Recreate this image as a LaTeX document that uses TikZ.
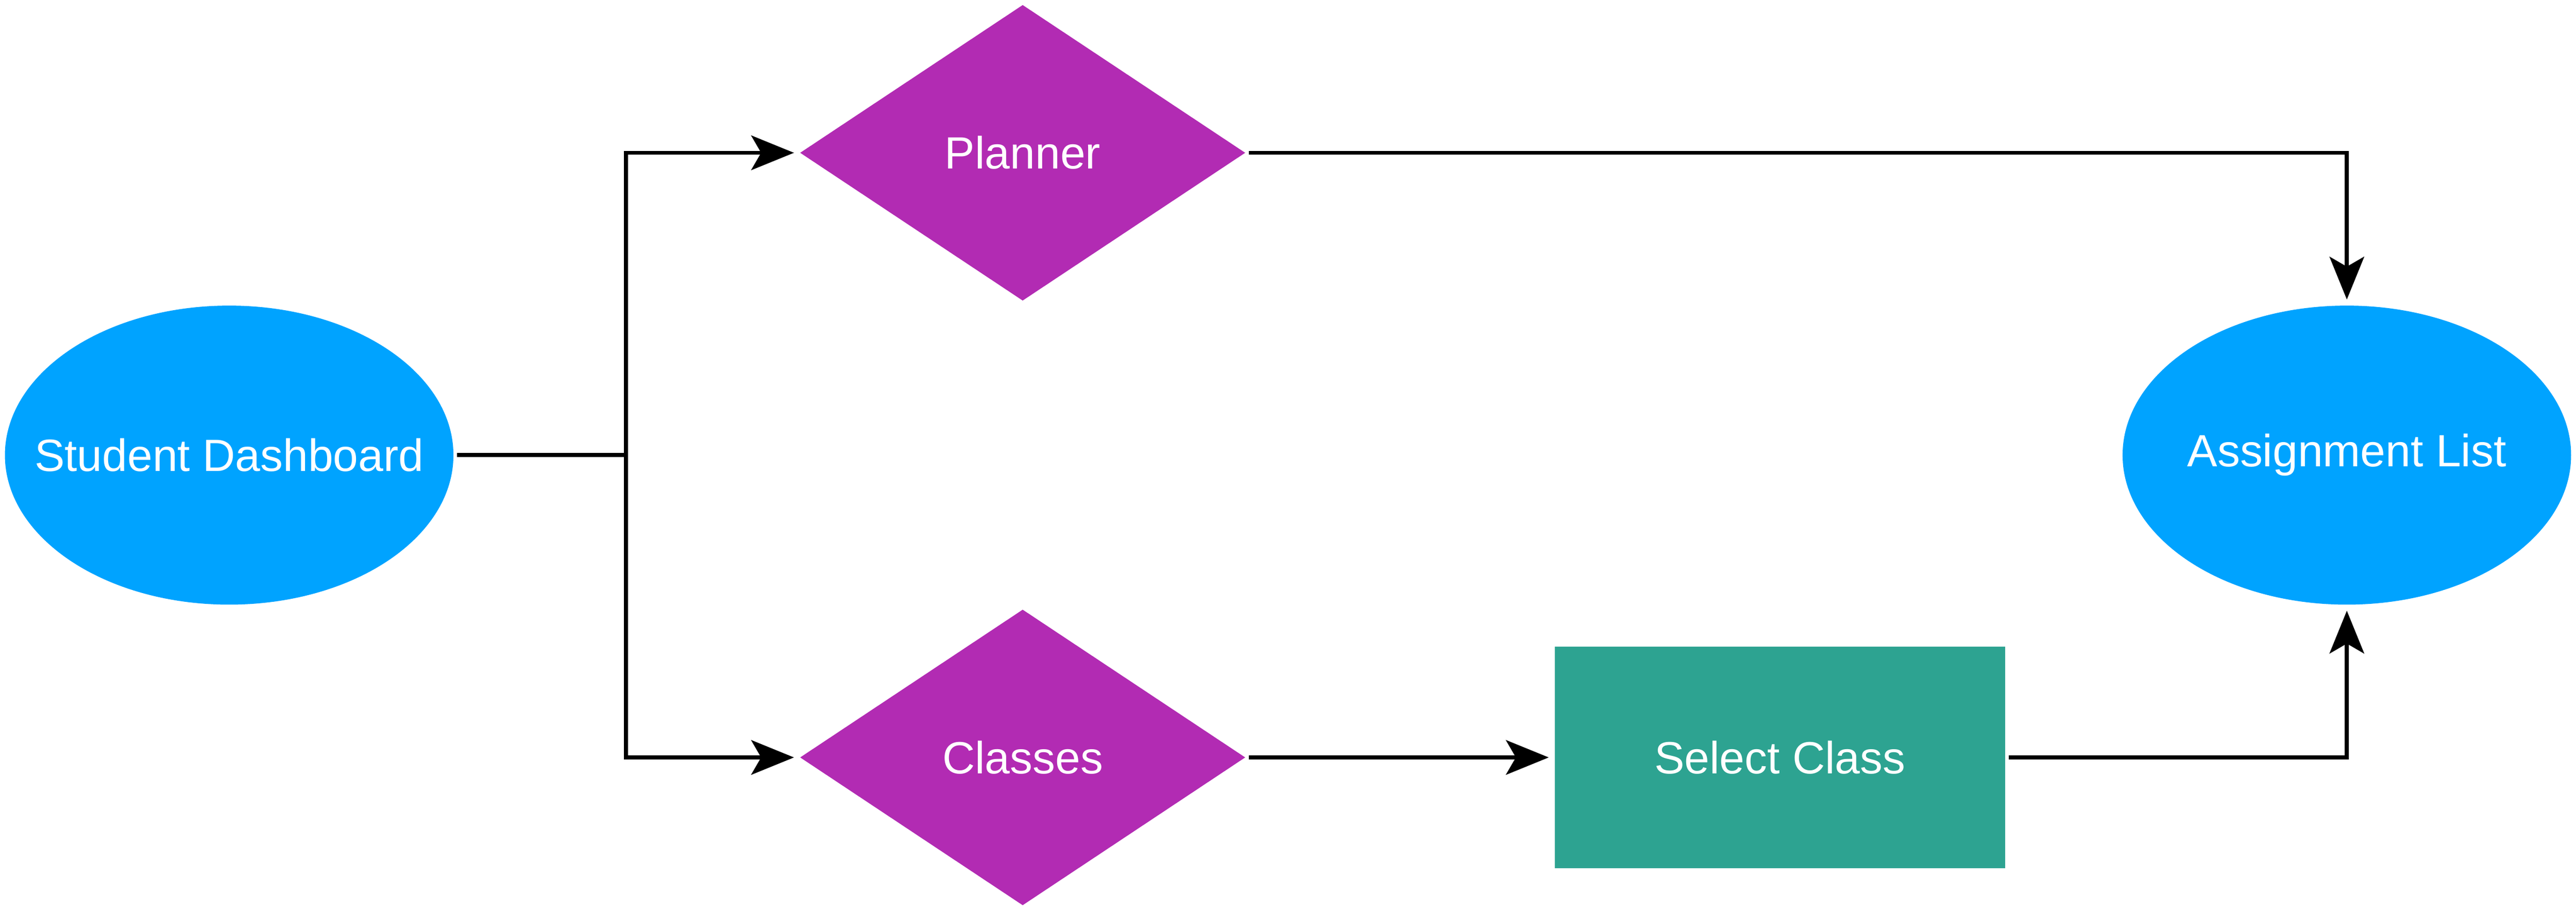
\documentclass[tikz,border=0pt]{standalone}
\usepackage{fontspec}
\setmainfont{Liberation Sans}
\usetikzlibrary{arrows.meta,positioning,shapes.geometric}

\definecolor{screenblue}{HTML}{00A3FF}
\definecolor{choicepurple}{HTML}{B22BB3}
\definecolor{actionteal}{HTML}{2DA391}

\begin{document}
\begin{tikzpicture}
[x=1pt, y=1pt,
% STYLES
every node/.style={font=\fontsize{27.5pt}{33pt}\selectfont, text=white, inner sep=0pt},
% The screen style is used to draw the pages the student sees
screen/.style={ellipse, fill=screenblue, inner xsep=-40pt, minimum width=273pt, minimum height=182pt},
% The choice style is used to draw the menu entries
choice/.style={diamond, aspect=1.5, fill=choicepurple, minimum width=271pt, minimum height=180pt},
% The action style is used to draw what the student does
action/.style={rectangle, fill=actionteal, minimum width=274pt, minimum height=135pt},
% The link style is used to draw the connectors
link/.style={line width=2.4pt, shorten <=2pt, shorten >=3.5pt,
  -{Stealth[length=26pt, width=21pt, inset=6pt]}}]

\useasboundingbox (0,0) rectangle (1568,555);

% Draw screens
\node [screen] (dashboard) at (139.5,278) {Student Dashboard};
\node [screen] (assignments) at (1428.5,278) {Assignment List};

% Draw choices
\node [choice] (planner) at (622.5,462) {Planner};
\node [choice] (classes) at (622.5,94) {Classes};

% Draw actions
\node [action, right=188pt of classes] (select) {Select Class};

% Draw the links between steps
\coordinate (fork) at (381,278);
\draw [line width=2.4pt, shorten <=2pt] (dashboard) -- (fork);
\draw [link, shorten <=0pt] (fork) |- (planner);
\draw [link, shorten <=0pt] (fork) |- (classes);
\draw [link] (planner) -| (assignments);
\draw [link] (classes) -- (select);
\draw [link] (select) -| (assignments);

\end{tikzpicture}
\end{document}
